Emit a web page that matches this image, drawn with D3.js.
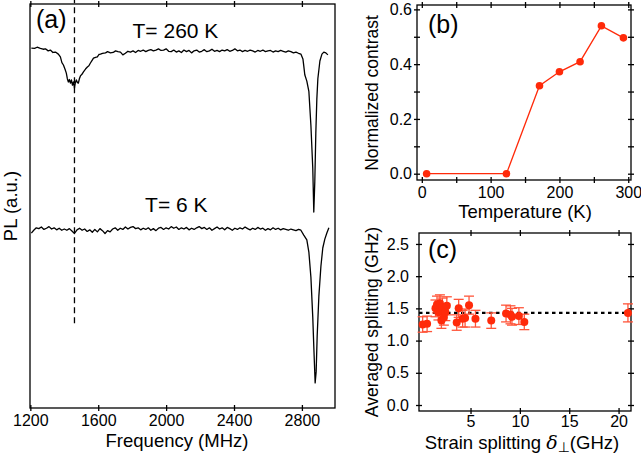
<!DOCTYPE html>
<html>
<head>
<meta charset="utf-8">
<script src="https://cdn.jsdelivr.net/npm/d3@7"></script>
<style>
body { margin: 0; background: #fff; }
text { font-family: "Liberation Sans", Arial, sans-serif; }
</style>
</head>
<body>
<svg width="641" height="459"></svg>
<script>
// (a) PL spectra, arbitrary units
const freqHot = [1206,1225,1240,1259,1275,1289,1305,1318,1333,1348,1365,1377,1386,1395,1405,1412,1418,1424,1430,1436,1442,1448,1454,1460,1465,1471,1477,1483,1489,1495,1504,1513,1525,1536,1545,1554,1563,1572,1584,1595,1604,1613,1625,1643,1655,1672,1688,1702,1716,1731,1745,1760,1775,1790,1805,1820,1835,1850,1865,1880,1895,1910,1925,1940,1955,1970,1985,2000,2015,2030,2045,2060,2075,2090,2105,2120,2135,2150,2165,2180,2195,2210,2225,2240,2255,2270,2285,2300,2315,2330,2345,2360,2375,2390,2405,2420,2435,2450,2465,2480,2495,2510,2525,2540,2555,2570,2585,2600,2615,2630,2645,2660,2675,2690,2705,2720,2735,2750,2765,2780,2794,2806,2811,2817,2829,2841,2853,2864,2870,2876,2882,2888,2894,2906,2918,2929,2941,2953];
const plHot = [89.1,89.0,89.3,89.0,88.8,88.9,88.4,88.6,88.0,88.1,87.6,86.9,85.5,84.9,83.8,82.9,81.5,80.7,81.3,80.4,81.2,79.9,80.7,79.2,80.5,81.2,80.6,80.4,81.5,82.2,82.6,83.2,83.9,84.4,84.7,85.4,86.0,86.6,86.8,86.9,87.5,87.6,87.8,87.9,88.2,87.9,88.0,88.4,88.2,88.1,87.4,87.8,88.3,88.1,88.4,88.0,88.5,88.3,88.6,88.2,88.5,88.7,88.4,88.6,88.9,88.5,88.6,88.9,88.3,88.2,88.6,88.1,88.4,88.0,88.6,88.2,88.5,87.9,88.4,88.6,88.1,88.3,88.7,88.2,88.4,88.8,88.3,88.5,88.2,88.6,88.4,88.7,88.3,88.5,88.9,88.4,88.6,88.2,88.5,88.3,88.6,88.4,88.1,88.5,88.3,88.6,88.2,88.4,88.5,88.1,88.4,88.2,88.5,88.3,88.1,88.4,88.2,87.9,88.1,87.8,87.6,86.4,84.7,82.5,80.9,78.4,70.0,59.4,48.5,56.0,68.0,76.5,81.5,85.9,87.6,88.1,87.9,87.4];

const freqCold = [1206,1220,1235,1250,1265,1280,1295,1310,1325,1340,1355,1370,1385,1400,1415,1430,1445,1460,1475,1490,1505,1520,1535,1550,1565,1580,1595,1610,1625,1640,1655,1670,1685,1700,1715,1730,1745,1760,1775,1790,1805,1820,1835,1850,1865,1880,1895,1910,1925,1940,1955,1970,1985,2000,2015,2030,2045,2060,2075,2090,2105,2120,2135,2150,2165,2180,2195,2210,2225,2240,2255,2270,2285,2300,2315,2330,2345,2360,2375,2390,2405,2420,2435,2450,2465,2480,2495,2510,2525,2540,2555,2570,2585,2600,2615,2630,2645,2660,2675,2690,2705,2720,2735,2750,2765,2780,2794,2811,2829,2841,2853,2864,2870,2878,2884,2890,2900,2912,2923,2935,2947,2959];
const plCold = [43.3,44.0,44.6,44.4,44.8,44.2,44.5,44.9,44.3,44.6,44.1,44.5,44.0,44.3,44.0,44.4,43.8,43.2,44.1,44.5,44.0,44.3,43.7,44.1,43.5,44.2,43.6,44.4,43.9,43.2,43.9,43.6,44.3,44.6,44.0,44.5,44.2,44.8,44.3,44.7,44.9,44.4,44.6,44.1,44.5,44.2,44.6,44.0,44.4,43.9,44.5,44.7,44.2,44.6,44.3,44.9,44.5,44.8,44.2,44.6,44.3,44.7,44.1,44.5,44.2,44.6,44.9,44.4,44.7,44.2,44.6,44.0,44.4,44.8,44.3,44.6,44.1,44.7,44.4,44.0,44.5,44.2,44.6,44.3,44.8,44.4,44.1,44.5,44.2,44.7,44.3,44.5,44.0,44.4,44.1,44.6,44.2,44.5,44.1,44.4,44.2,44.0,44.3,44.1,43.9,44.2,44.0,42.8,41.6,38.6,32.4,22.5,15.3,6.2,9.0,17.8,27.7,35.1,39.6,41.8,43.3,44.6];

const freqTicks = [1200, 1600, 2000, 2400, 2800];
const dashFreq = 1460;
const dashSpan = [21, 101];
const spectrumLabels = [{text: 'T= 260 K', f: 2055, pl: 91.6}, {text: 'T= 6 K', f: 2060, pl: 48.5}];

// (b) contrast vs temperature
const temps = [7, 123, 171, 200, 230, 261, 293];
const contrast = [0.0, 0.0, 0.321, 0.372, 0.409, 0.540, 0.496];
const tempTicks = [0, 50, 100, 150, 200, 250, 300];
const contrastTicks = [0, 0.1, 0.2, 0.3, 0.4, 0.5, 0.6];

// (c) averaged splitting vs strain splitting
const strain = [0.15, 0.6, 1.45, 1.6, 1.75, 1.9, 2.05, 2.15, 2.3, 2.45, 2.6, 3.6, 3.8, 4.2, 4.45, 4.85, 5.5, 7.1, 8.6, 9.05, 9.2, 9.9, 10.45, 20.95];
const splitting = [1.25, 1.26, 1.50, 1.56, 1.44, 1.58, 1.31, 1.52, 1.36, 1.44, 1.54, 1.28, 1.50, 1.34, 1.35, 1.55, 1.34, 1.31, 1.42, 1.40, 1.37, 1.38, 1.29, 1.43];
const splitErr = [0.12, 0.12, 0.13, 0.13, 0.12, 0.13, 0.12, 0.14, 0.12, 0.13, 0.14, 0.12, 0.14, 0.13, 0.14, 0.14, 0.13, 0.12, 0.13, 0.14, 0.13, 0.13, 0.12, 0.14];
const meanSplitting = 1.43;
const strainTicks = [5, 10, 15, 20];
const splitTicks = [0, 0.5, 1.0, 1.5, 2.0, 2.5];

const RED = '#ff2a0a';
const FONT = '"Liberation Sans", Arial, sans-serif';

const svg = d3.select('svg');

// ticks that cross the frame: outer half with labels, inner half blank
function addAxis(make, scale, x, y, values, fmt, pad) {
    svg.append('g')
        .attr('transform', `translate(${x},${y})`)
        .call(make(scale).tickValues(values).tickSize(3).tickPadding(pad).tickFormat(fmt))
        .attr('font-family', FONT)
        .attr('font-size', 16)
        .call(g => g.select('.domain').remove())
        .call(g => g.selectAll('line').attr('stroke-width', 1.3));
    svg.append('g')
        .attr('transform', `translate(${x},${y})`)
        .call(make(scale).tickValues(values).tickSize(-3).tickFormat(''))
        .call(g => g.select('.domain').remove())
        .call(g => g.selectAll('line').attr('stroke-width', 1.3));
}

function frame(x0, y0, x1, y1) {
    svg.append('rect')
        .attr('x', x0).attr('y', y0)
        .attr('width', x1 - x0).attr('height', y1 - y0)
        .attr('fill', 'none').attr('stroke', '#000').attr('stroke-width', 1.3);
}

function label(text, x, y, size, rotate) {
    svg.append('text')
        .attr('transform', `translate(${x},${y})` + (rotate ? ' rotate(-90)' : ''))
        .attr('text-anchor', 'middle')
        .attr('font-size', size)
        .text(text);
}

// ---------- panel (a) ----------
const ax = d3.scaleLinear().domain([1198, 2995]).range([30, 335]);
const ay = d3.scaleLinear().domain([0, 100]).range([408, 4]);

addAxis(d3.axisBottom, ax, 0, 408, freqTicks, d3.format('d'), 4);
addAxis(d3.axisTop, ax, 0, 4, freqTicks, '', 0);

const specLine = d3.line().x(d => ax(d[0])).y(d => ay(d[1]));
svg.append('path')
    .datum(d3.zip(freqHot, plHot))
    .attr('d', specLine)
    .attr('fill', 'none').attr('stroke', '#000').attr('stroke-width', 1.3).attr('stroke-linejoin', 'round');
svg.append('path')
    .datum(d3.zip(freqCold, plCold))
    .attr('d', specLine)
    .attr('fill', 'none').attr('stroke', '#000').attr('stroke-width', 1.3).attr('stroke-linejoin', 'round');

svg.append('line')
    .attr('x1', ax(dashFreq)).attr('x2', ax(dashFreq))
    .attr('y1', ay(dashSpan[0])).attr('y2', ay(dashSpan[1]))
    .attr('stroke', '#000').attr('stroke-width', 1.3).attr('stroke-dasharray', '6,4');

frame(30, 4, 335, 408);

svg.selectAll('.tlabel')
    .data(spectrumLabels)
    .enter()
    .append('text')
    .classed('tlabel', true)
    .attr('x', d => ax(d.f)).attr('y', d => ay(d.pl))
    .attr('text-anchor', 'middle')
    .attr('font-size', 21)
    .text(d => d.text);

svg.append('text').attr('x', 36).attr('y', 28).attr('font-size', 25).text('(a)');
label('Frequency (MHz)', 177, 447, 18.5, false);
label('PL (a.u.)', 17, 206, 18.5, true);

// ---------- panel (b) ----------
const bx = d3.scaleLinear().domain([-7, 304]).range([417, 631]);
const by = d3.scaleLinear().domain([-0.023, 0.616]).range([180, 5]);

addAxis(d3.axisBottom, bx, 0, 180, tempTicks, d => d % 100 === 0 ? d : '', 4);
addAxis(d3.axisTop, bx, 0, 5, tempTicks, '', 0);
addAxis(d3.axisLeft, by, 417, 0, contrastTicks, d => Math.round(d * 10) % 2 === 0 ? d.toFixed(1) : '', 2);
addAxis(d3.axisRight, by, 631, 0, contrastTicks, '', 0);
frame(417, 5, 631, 180);

svg.append('path')
    .datum(d3.zip(temps, contrast))
    .attr('d', d3.line().x(d => bx(d[0])).y(d => by(d[1])))
    .attr('fill', 'none').attr('stroke', RED).attr('stroke-width', 1.3);
svg.selectAll('.bdot')
    .data(d3.zip(temps, contrast))
    .enter()
    .append('circle')
    .classed('bdot', true)
    .attr('cx', d => bx(d[0])).attr('cy', d => by(d[1]))
    .attr('r', 3.8).attr('fill', RED);

svg.append('text').attr('x', 428).attr('y', 33).attr('font-size', 25).text('(b)');
label('Temperature (K)', 525, 218, 18.5, false);
label('Normalized contrast', 378, 93, 17.5, true);

// ---------- panel (c) ----------
const cx = d3.scaleLinear().domain([-0.22, 21.26]).range([419, 631]);
const cy = d3.scaleLinear().domain([-0.093, 2.67]).range([411, 233]);

addAxis(d3.axisBottom, cx, 0, 411, strainTicks, d3.format('d'), 2);
addAxis(d3.axisTop, cx, 0, 233, strainTicks, '', 0);
addAxis(d3.axisLeft, cy, 419, 0, splitTicks, d3.format('.1f'), 7);
addAxis(d3.axisRight, cy, 631, 0, splitTicks, '', 0);
frame(419, 233, 631, 411);

svg.append('line')
    .attr('x1', cx(-0.22)).attr('x2', cx(21.0))
    .attr('y1', cy(meanSplitting)).attr('y2', cy(meanSplitting))
    .attr('stroke', '#000').attr('stroke-width', 2.2).attr('stroke-dasharray', '3.5,3.5');

const pts = d3.range(strain.length).map(i => ({s: strain[i], v: splitting[i], e: splitErr[i]}));
const bars = svg.selectAll('.err')
    .data(pts)
    .enter()
    .append('g')
    .classed('err', true)
    .attr('stroke', '#ff553a').attr('stroke-width', 1.3);
bars.append('line')
    .attr('x1', d => cx(d.s)).attr('x2', d => cx(d.s))
    .attr('y1', d => cy(d.v - d.e)).attr('y2', d => cy(d.v + d.e));
bars.append('line')
    .attr('x1', d => cx(d.s) - 5).attr('x2', d => cx(d.s) + 5)
    .attr('y1', d => cy(d.v + d.e)).attr('y2', d => cy(d.v + d.e));
bars.append('line')
    .attr('x1', d => cx(d.s) - 5).attr('x2', d => cx(d.s) + 5)
    .attr('y1', d => cy(d.v - d.e)).attr('y2', d => cy(d.v - d.e));
svg.selectAll('.cdot')
    .data(pts)
    .enter()
    .append('circle')
    .classed('cdot', true)
    .attr('cx', d => cx(d.s)).attr('cy', d => cy(d.v))
    .attr('r', 4).attr('fill', RED);

svg.append('text').attr('x', 428).attr('y', 258).attr('font-size', 25).text('(c)');
label('Averaged splitting (GHz)', 378, 322, 17.5, true);

const xl = svg.append('text')
    .attr('x', 522).attr('y', 449)
    .attr('text-anchor', 'middle')
    .attr('font-size', 18.5);
xl.append('tspan').text('Strain splitting ');
xl.append('tspan').attr('font-family', '"DejaVu Serif", serif').attr('font-style', 'italic').attr('font-size', 19).text('δ');
xl.append('tspan').attr('dy', 3).attr('font-size', 14).attr('font-family', '"DejaVu Sans", sans-serif').text('⊥');
xl.append('tspan').attr('dy', -3).text('(GHz)');
</script>
</body>
</html>
